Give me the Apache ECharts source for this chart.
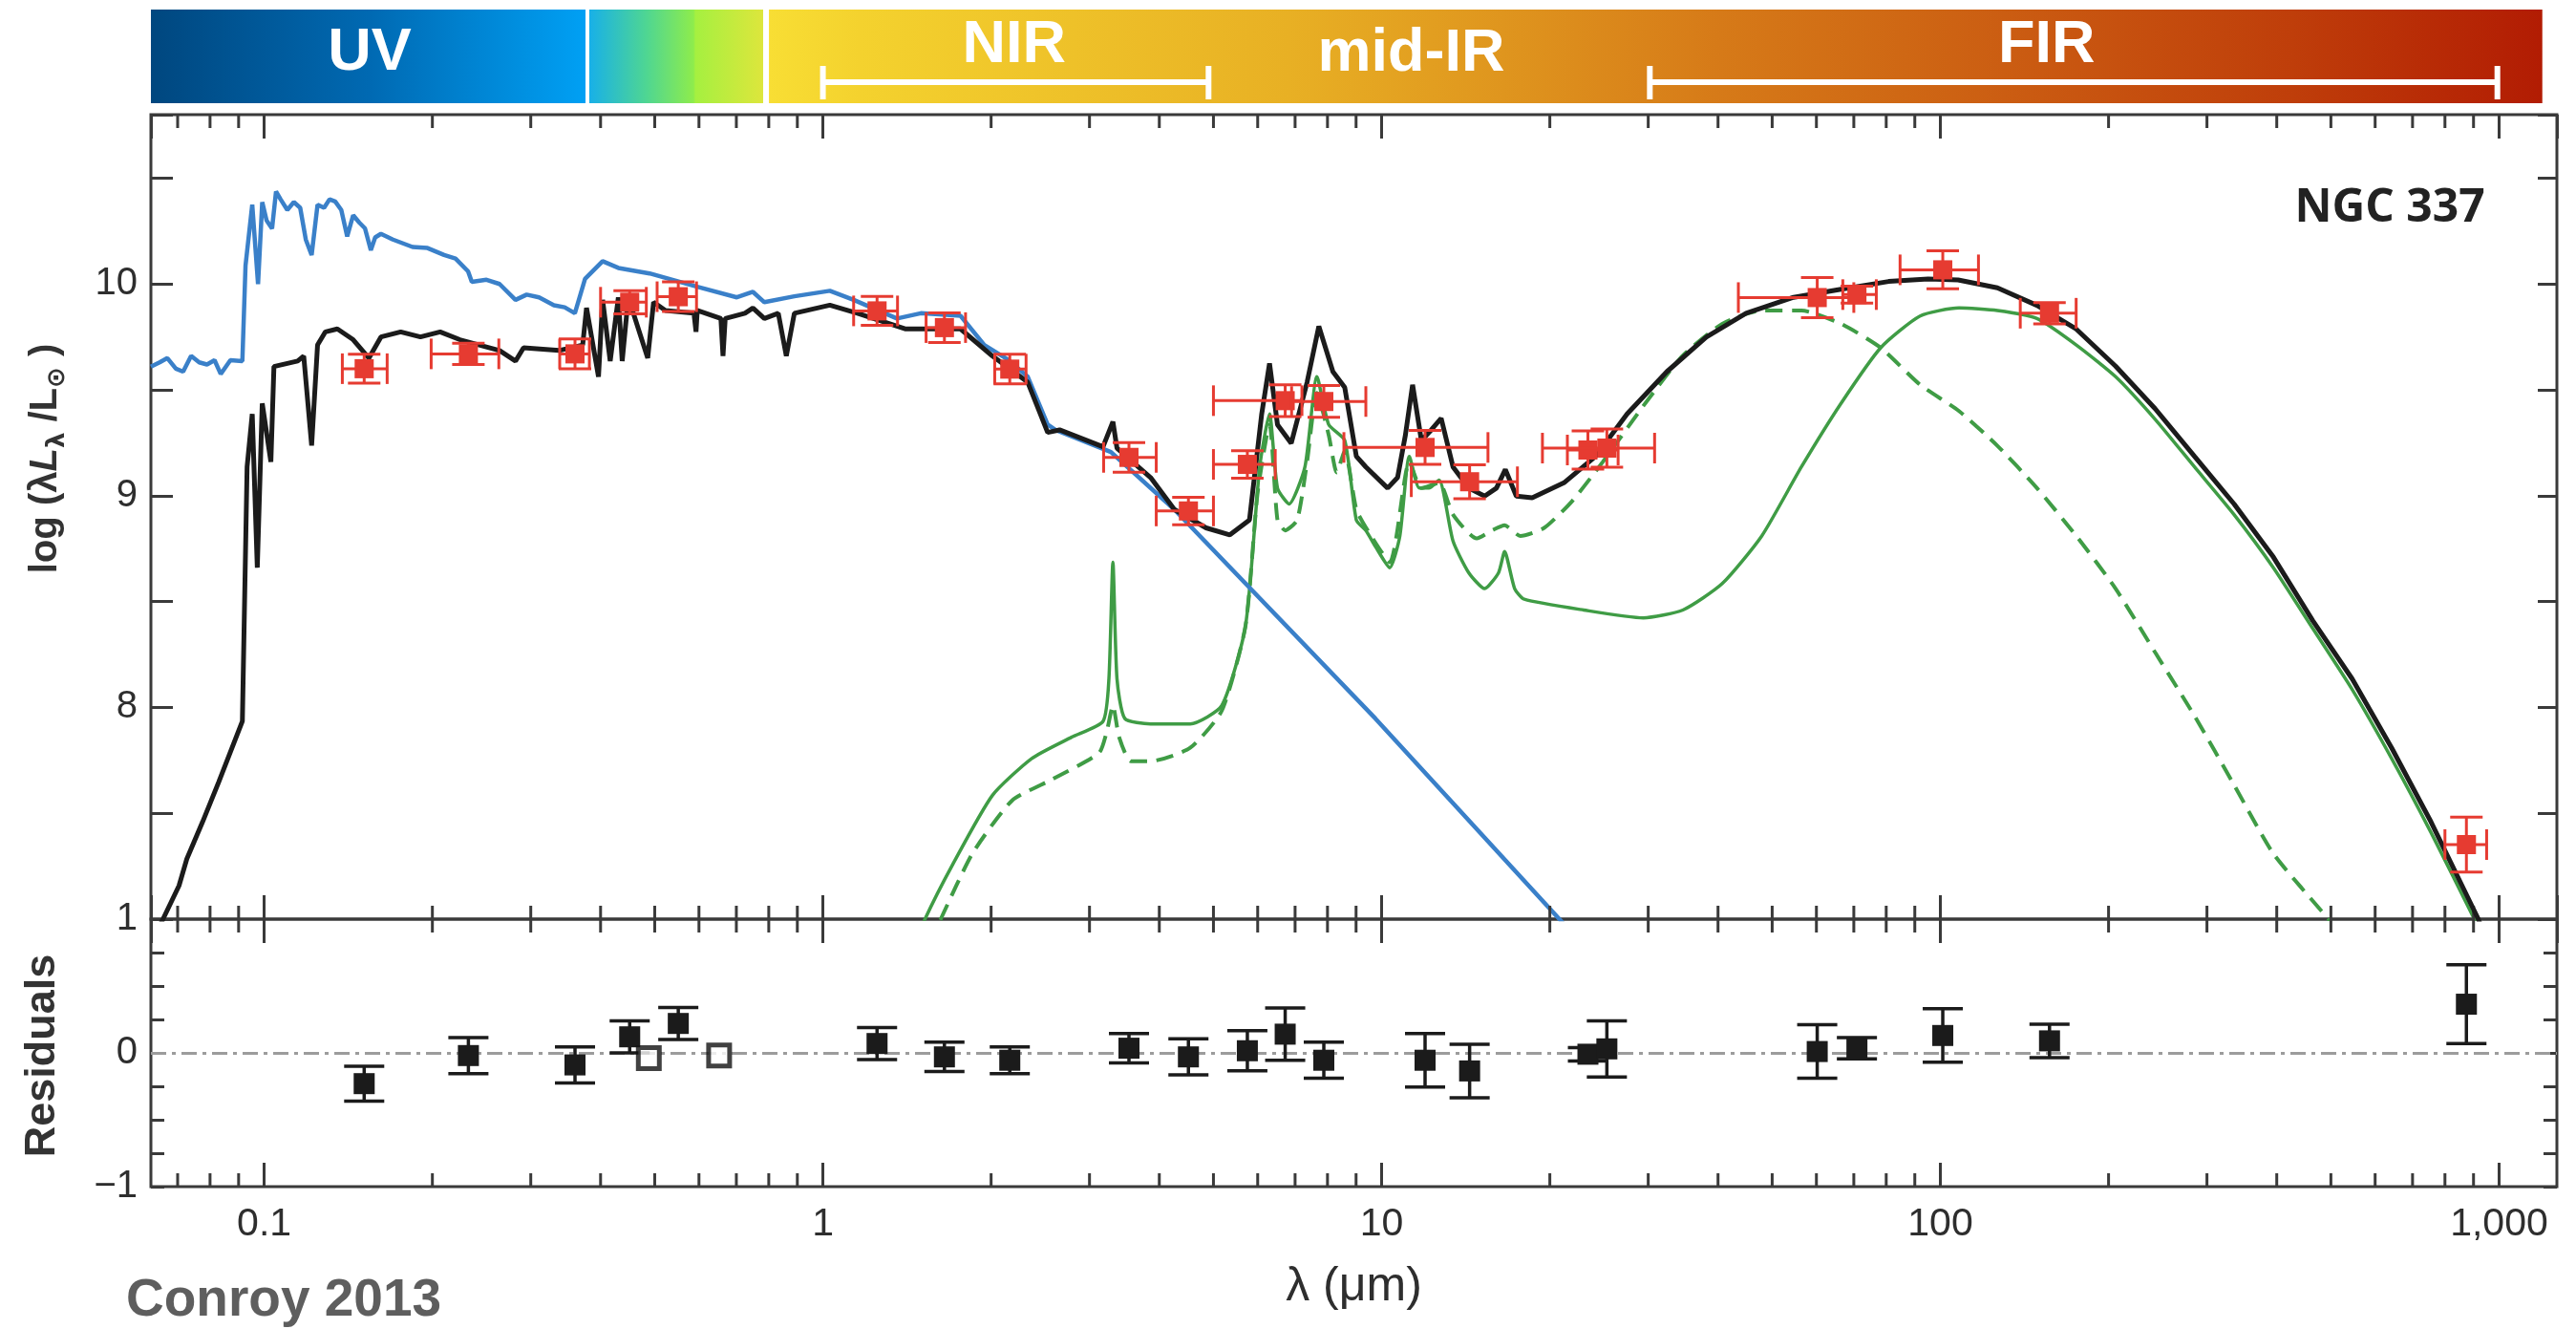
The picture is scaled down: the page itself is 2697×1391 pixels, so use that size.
<!DOCTYPE html>
<html><head><meta charset="utf-8">
<script src="https://cdn.jsdelivr.net/npm/echarts@6.0.0/dist/echarts.min.js"></script>
<style>html,body{margin:0;padding:0;background:#fff}#c{width:2697px;height:1391px}</style>
</head><body><div id="c"></div>
<script>
// ---------------- DATA ----------------
// stellar (unattenuated) spectrum, blue
const stellarWave = [0.0627,0.0650,0.0671,0.0695,0.0716,0.0740,0.0765,0.0790,0.0815,0.0836,0.0870,0.0914,0.0926,0.0952,0.0975,0.0992,0.1010,0.1033,0.1050,0.1070,0.1100,0.1130,0.1160,0.1187,0.1216,0.1246,0.1280,0.1309,0.1340,0.1374,0.1408,0.1443,0.1480,0.1515,0.1552,0.1580,0.1618,0.1700,0.1843,0.1960,0.2099,0.2200,0.2317,0.2353,0.2500,0.2638,0.2817,0.2950,0.3105,0.3300,0.3450,0.3598,0.3752,0.4034,0.4304,0.4895,0.5958,0.7015,0.7494,0.7856,0.889,1.029,1.135,1.357,1.497,1.763,1.945,2.14,2.326,2.525,2.606,3.277,4.256,9.75,22.0];
const stellarLum  = [9.61,9.63,9.65,9.60,9.586,9.66,9.63,9.62,9.64,9.575,9.64,9.636,10.087,10.375,10.0,10.387,10.30,10.262,10.437,10.40,10.35,10.387,10.36,10.21,10.137,10.375,10.36,10.40,10.39,10.35,10.225,10.325,10.29,10.263,10.16,10.22,10.237,10.21,10.175,10.17,10.137,10.12,10.06,10.01,10.02,10.0,9.925,9.95,9.937,9.90,9.89,9.862,10.024,10.108,10.076,10.05,9.987,9.937,9.963,9.914,9.942,9.968,9.925,9.837,9.862,9.85,9.712,9.644,9.562,9.336,9.311,9.206,8.935,7.947,6.93];
// total model, black
const totalWave = [0.0640,0.0659,0.0704,0.0727,0.0776,0.0829,0.0914,0.0932,0.0952,0.0972,0.0992,0.1028,0.1041,0.1148,0.1177,0.1216,0.1246,0.1287,0.1352,0.1443,0.1540,0.1618,0.1755,0.1904,0.2065,0.2240,0.2638,0.2817,0.2912,0.3370,0.3716,0.3775,0.3966,0.4034,0.4162,0.4304,0.4373,0.4484,0.4858,0.4977,0.5227,0.5877,0.5928,0.5958,0.6568,0.6625,0.6686,0.7252,0.7494,0.7856,0.832,0.860,0.889,1.029,1.153,1.403,1.547,1.763,2.01,2.326,2.525,2.652,3.172,3.304,3.36,3.859,4.256,4.85,5.35,5.80,6.10,6.30,6.51,6.89,7.355,7.72,8.18,8.59,9.01,9.37,10.25,10.68,11.03,11.36,11.78,12.27,12.78,13.42,14.32,15.29,16.05,16.65,17.42,18.6,21.2,24.15,27.5,32.4,38.1,44.9,54.6,66.4,80.8,95.1,107.6,126.5,148.9,175.1,205.9,242.3,285,335.5,394.5,464,545.8,642.2,755.4,918,960];
const totalLum  = [6.93,7.0,7.158,7.284,7.46,7.647,7.935,9.136,9.386,8.66,9.436,9.16,9.61,9.636,9.66,9.237,9.712,9.774,9.788,9.737,9.65,9.75,9.774,9.75,9.774,9.737,9.686,9.636,9.699,9.686,9.712,9.887,9.562,9.925,9.636,9.937,9.636,9.937,9.65,9.914,9.875,9.862,9.774,9.875,9.837,9.66,9.837,9.862,9.887,9.837,9.862,9.66,9.862,9.90,9.862,9.788,9.788,9.788,9.66,9.536,9.299,9.311,9.231,9.35,9.224,9.086,8.935,8.848,8.815,8.885,9.386,9.625,9.336,9.248,9.536,9.80,9.586,9.511,9.186,9.136,9.036,9.086,9.287,9.524,9.261,9.311,9.366,9.136,9.036,8.998,9.036,9.124,8.998,8.99,9.061,9.186,9.386,9.586,9.749,9.862,9.937,9.975,10.012,10.024,10.019,9.982,9.899,9.787,9.612,9.411,9.186,8.961,8.71,8.41,8.135,7.809,7.459,7.0,6.86];
// dust emission, green solid
const dustWave = [1.45,1.523,1.707,2.01,2.365,2.785,3.172,3.25,3.304,3.36,3.471,3.859,4.543,5.176,5.706,6.05,6.30,6.51,6.83,7.29,7.66,8.04,8.59,9.01,9.37,9.75,10.34,10.78,11.21,11.68,12.15,12.67,13.42,14.32,15.29,16.19,16.6,17.3,18.0,23.0,29.4,34.6,40.7,47.9,56.4,66.4,78.2,92,108,126.5,148.9,175.1,205.9,242.3,285,335.5,394.5,464,545.8,642.2,755.4,903,940];
const dustLum  = [6.85,7.0,7.258,7.584,7.759,7.859,7.934,8.135,8.686,8.135,7.947,7.922,7.922,8.009,8.385,9.136,9.386,9.036,8.961,9.136,9.562,9.336,9.261,8.885,8.836,8.76,8.66,8.81,9.186,9.036,9.036,9.074,8.786,8.636,8.561,8.636,8.736,8.561,8.511,8.46,8.423,8.46,8.585,8.81,9.136,9.436,9.699,9.849,9.887,9.875,9.837,9.712,9.562,9.361,9.136,8.911,8.66,8.373,8.085,7.759,7.409,7.0,6.9];
// dust emission second component, green dashed
const dust2Wave = [1.55,1.625,1.852,2.18,2.567,3.12,3.22,3.304,3.39,3.557,3.859,4.543,5.176,5.706,5.996,6.30,6.51,6.72,7.06,7.355,7.66,8.04,8.31,8.59,9.01,9.37,10.34,11.21,11.78,12.67,13.42,14.8,15.76,16.6,17.71,19.54,21.9,24.9,29.4,34.6,40.7,47.9,56.4,66.4,78.2,92,108,126.5,148.9,175.1,205.9,242.3,285,335.5,394.5,495,520];
const dust2Lum  = [6.88,7.0,7.31,7.56,7.659,7.785,7.884,8.009,7.859,7.746,7.746,7.809,7.985,8.385,9.011,9.336,8.885,8.836,8.885,9.161,9.486,9.287,9.11,9.211,8.935,8.85,8.686,9.161,9.036,9.061,8.911,8.798,8.836,8.86,8.81,8.848,8.973,9.161,9.424,9.662,9.812,9.875,9.875,9.812,9.699,9.524,9.40,9.236,9.036,8.81,8.561,8.26,7.96,7.634,7.309,7.0,6.93];
// photometry (red)
const obsWave   = [0.151,0.232,0.360,0.451,0.551,1.25,1.65,2.16,3.53,4.51,5.75,6.72,7.88,11.96,14.37,23.4,25.3,60.2,70.9,101,156.8,874];
const obsLum    = [9.60,9.67,9.67,9.914,9.94,9.873,9.794,9.598,9.181,8.928,9.148,9.449,9.445,9.228,9.066,9.216,9.225,9.936,9.95,10.067,9.862,7.352];
const obsWaveLo = [0.138,0.199,0.338,0.400,0.505,1.135,1.53,2.03,3.18,3.95,5.0,5.0,6.9,8.56,11.3,21.5,19.4,43.5,66.9,84.7,139,800];
const obsWaveHi = [0.166,0.263,0.382,0.483,0.594,1.36,1.80,2.31,3.95,5.0,6.45,7.2,9.37,15.5,17.5,26.5,30.8,70,76.8,117,175,950];
const obsErr    = [0.068,0.05,0.07,0.055,0.07,0.068,0.07,0.07,0.07,0.065,0.065,0.075,0.075,0.08,0.08,0.09,0.09,0.095,0.04,0.09,0.05,0.13];
// residuals (black) at the photometry wavelengths
const residVal  = [-0.23,-0.02,-0.09,0.12,0.22,0.07,-0.03,-0.055,0.035,-0.03,0.016,0.14,-0.055,-0.055,-0.135,-0.01,0.03,0.01,0.035,0.13,0.09,0.364];
const residErr  = [0.13,0.135,0.135,0.12,0.12,0.12,0.11,0.1,0.11,0.135,0.15,0.195,0.135,0.2,0.2,0.05,0.21,0.2,0.08,0.2,0.125,0.295];
const openWave  = [0.488,0.652];
const openVal   = [-0.04,-0.02];
// minor ticks of the wavelength axis
const minorTickWave = [0.07,0.08,0.09,0.2,0.3,0.4,0.5,0.6,0.7,0.8,0.9,2,3,4,5,6,7,8,9,20,30,40,50,60,70,80,90,200,300,400,500,600,700,800,900];
// spectral band strip
const bandFrom  = [0.0627,0.3818,0.8006];
const bandTo    = [0.3759,0.7817,1195];
const bandLabels = ['UV','NIR','mid-IR','FIR'];
const bandLabelWave = [0.1545,2.2,11.3,155];
const bracketFrom = [1.0,30.2];
const bracketTo   = [4.9,993];

// ---------------- STYLE ----------------
const X_MIN = 0.0627, X_MAX = 1269;
const FONT = '"Liberation Sans", Arial, Helvetica, sans-serif';
const RED = '#e63b31', BLK = '#1b1b1b', BLUE = '#3a80c9', GREEN = '#3f9c45', AX = '#3a3a3a';
const bandGradients = [
  [[0,'#00477f'],[0.5,'#0069b2'],[1,'#00a0f4']],
  [[0,'#18b0e8'],[0.33,'#4fd692'],[0.6,'#8eec4c'],[0.61,'#a5f040'],[1,'#dde63c']],
  [[0,'#f8de34'],[0.051,'#f4d22e'],[0.293,'#e8b024'],[0.536,'#d67a18'],[0.697,'#cb5d12'],[0.859,'#bf3e0a'],[1,'#b21c03']]
];
const bandLabelOffset = [45.5,38,46.5,38];

const zip = (a,b) => a.map((v,i)=>[v,b[i]]);

function fmtX(v){
  const l = Math.log10(v);
  if (Math.abs(l-Math.round(l))>1e-6) return '';
  const p = Math.pow(10, Math.round(l));
  return String(p).replace(/\B(?=(\d{3})+(?!\d))/g, ',');
}

const chart = echarts.init(document.getElementById('c'), null, {renderer:'canvas'});

const tickStyle = {color: AX, width: 3};
function xAx(grid, pos, labels){
  const a = {type:'log', logBase:10, gridIndex:grid, position:pos, min:X_MIN, max:X_MAX,
    splitLine:{show:false}, axisLine:{show:false, onZero:false},
    axisTick:{show:true, inside:true, length:25, lineStyle:tickStyle},
    axisLabel:{show:false}};
  if (labels){
    a.axisLabel = {show:true, formatter:fmtX, fontSize:41, fontFamily:FONT, color:'#2e2e2e', margin:19, showMinLabel:false, showMaxLabel:false};
    a.name = 'λ (μm)'; a.nameLocation = 'middle'; a.nameGap = 80;
    a.nameTextStyle = {fontSize:50, fontFamily:FONT, color:'#2e2e2e'};
  }
  return a;
}
function yAx(grid, pos, min, max, interval, len, fmt){
  return {type:'value', gridIndex:grid, position:pos, min:min, max:max, interval:interval,
    splitLine:{show:false}, axisLine:{show:false, onZero:false},
    axisTick:{show:true, inside:true, length:len, lineStyle:tickStyle},
    axisLabel: fmt ? {show:true, formatter:fmt, fontSize:40, fontFamily:FONT, color:'#2e2e2e', margin:14} : {show:false}};
}
const near = (v,t) => Math.abs(v-t)<1e-9;

function renderObs(params, api){
  const x = api.value(0), y = api.value(1), lo = api.value(2), hi = api.value(3), e = api.value(4);
  const c = api.coord([x,y]), pl = api.coord([lo,y]), ph = api.coord([hi,y]);
  const pt = api.coord([x,y+e]), pb = api.coord([x,y-e]);
  const st = () => ({stroke:RED, lineWidth:3, fill:null});
  const ch = 16, cw = 17, m = 10;
  return {type:'group', children:[
    {type:'line', shape:{x1:pl[0],y1:c[1],x2:ph[0],y2:c[1]}, style:st()},
    {type:'line', shape:{x1:pl[0],y1:c[1]-ch,x2:pl[0],y2:c[1]+ch}, style:st()},
    {type:'line', shape:{x1:ph[0],y1:c[1]-ch,x2:ph[0],y2:c[1]+ch}, style:st()},
    {type:'line', shape:{x1:c[0],y1:pt[1],x2:c[0],y2:pb[1]}, style:st()},
    {type:'line', shape:{x1:c[0]-cw,y1:pt[1],x2:c[0]+cw,y2:pt[1]}, style:st()},
    {type:'line', shape:{x1:c[0]-cw,y1:pb[1],x2:c[0]+cw,y2:pb[1]}, style:st()},
    {type:'rect', shape:{x:c[0]-m,y:c[1]-m,width:2*m,height:2*m}, style:{fill:RED}}
  ]};
}
function renderResid(params, api){
  const x = api.value(0), y = api.value(1), e = api.value(2);
  const c = api.coord([x,y]), pt = api.coord([x,y+e]), pb = api.coord([x,y-e]);
  const st = () => ({stroke:BLK, lineWidth:3.5, fill:null});
  const cw = 21, m = 11;
  return {type:'group', children:[
    {type:'line', shape:{x1:c[0],y1:pt[1],x2:c[0],y2:pb[1]}, style:st()},
    {type:'line', shape:{x1:c[0]-cw,y1:pt[1],x2:c[0]+cw,y2:pt[1]}, style:st()},
    {type:'line', shape:{x1:c[0]-cw,y1:pb[1],x2:c[0]+cw,y2:pb[1]}, style:st()},
    {type:'rect', shape:{x:c[0]-m,y:c[1]-m,width:2*m,height:2*m}, style:{fill:BLK}}
  ]};
}
function renderMinor(params, api){
  const cs = params.coordSys;
  const x = api.coord([api.value(0), api.value(1)])[0];
  const st = () => ({stroke:AX, lineWidth:3});
  return {type:'group', children:[
    {type:'line', shape:{x1:x,y1:cs.y,x2:x,y2:cs.y+14}, style:st()},
    {type:'line', shape:{x1:x,y1:cs.y+cs.height,x2:x,y2:cs.y+cs.height-14}, style:st()}
  ]};
}
function renderBand(params, api){
  const cs = params.coordSys;
  const i = params.dataIndex;
  const x1 = api.coord([api.value(0),0.5])[0], x2 = api.coord([api.value(1),0.5])[0];
  return {type:'rect', shape:{x:x1, y:cs.y, width:x2-x1, height:cs.height},
    style:{fill:{type:'linear', x:0, y:0, x2:1, y2:0, global:false,
      colorStops: bandGradients[i].map(s=>({offset:s[0], color:s[1]}))}}};
}
function renderBracket(params, api){
  const cs = params.coordSys;
  const x1 = api.coord([api.value(0),0.5])[0], x2 = api.coord([api.value(1),0.5])[0];
  const y = cs.y + 76, t = cs.y + 59, b = cs.y + 94;
  const st = () => ({stroke:'#ffffff', lineWidth:6});
  return {type:'group', children:[
    {type:'line', shape:{x1:x1,y1:y,x2:x2,y2:y}, style:st()},
    {type:'line', shape:{x1:x1,y1:t,x2:x1,y2:b}, style:st()},
    {type:'line', shape:{x1:x2,y1:t,x2:x2,y2:b}, style:st()}
  ]};
}
function renderBandLabel(params, api){
  const cs = params.coordSys;
  const i = params.dataIndex;
  const x = api.coord([api.value(0),0.5])[0];
  return {type:'text', style:{x:x, y:cs.y + bandLabelOffset[i], text:bandLabels[i], fill:'#ffffff',
    font:'bold 63px ' + FONT, align:'center', verticalAlign:'middle', textAlign:'center', textVerticalAlign:'middle'}};
}

const option = {
  animation:false,
  backgroundColor:'#ffffff',
  grid:[
    {left:158, top:120, width:2519, height:842, show:true, borderColor:AX, borderWidth:3, backgroundColor:'transparent', outerBoundsMode:'none', containLabel:false},
    {left:158, top:962, width:2519, height:280, show:true, borderColor:AX, borderWidth:3, backgroundColor:'transparent', outerBoundsMode:'none', containLabel:false},
    {left:158, top:10, width:2519, height:98, show:false, outerBoundsMode:'none', containLabel:false}
  ],
  xAxis:[
    xAx(0,'bottom',false), xAx(0,'top',false), xAx(1,'bottom',true), xAx(1,'top',false),
    {type:'log', logBase:10, gridIndex:2, min:X_MIN, max:X_MAX, show:false}
  ],
  yAxis:[
    yAx(0,'left',7,10.8,0.5,23, v => (near(v,8)||near(v,9)||near(v,10)) ? String(Math.round(v)) : ''),
    yAx(0,'right',7,10.8,0.5,20,null),
    yAx(1,'left',-1,1,0.25,14, v => near(v,1)?'1' : near(v,0)?'0' : near(v,-1)?'\u22121' : ''),
    yAx(1,'right',-1,1,0.25,14,null),
    {type:'value', gridIndex:2, min:0, max:1, show:false}
  ],
  graphic:[
    {type:'text', x:2502, y:218, style:{text:'NGC 337', font:'bold 48px "Open Sans", ' + FONT, fill:'#222222', align:'center', verticalAlign:'middle', textAlign:'center', textVerticalAlign:'middle'}},
    {type:'text', x:45, y:1105, rotation:Math.PI/2, style:{text:'Residuals', font:'bold 45px ' + FONT, fill:'#333333', align:'center', verticalAlign:'middle', textAlign:'center', textVerticalAlign:'middle'}},
    {type:'text', x:48, y:480, rotation:Math.PI/2, style:{
      text:'{b|log (λ}{i|L}{s|λ}{b| /L}{s|⊙}{b| )}', align:'center', verticalAlign:'middle', textAlign:'center', textVerticalAlign:'middle',
      rich:{
        b:{font:'bold 40px ' + FONT, fill:'#333333', lineHeight:50},
        i:{font:'italic bold 40px ' + FONT, fill:'#333333', lineHeight:50},
        s:{font:'bold 26px "DejaVu Sans", ' + FONT, fill:'#333333', lineHeight:30, verticalAlign:'bottom'}
      }}},
    {type:'text', x:132, y:1362, style:{text:'Conroy 2013', font:'bold 55px ' + FONT, fill:'#5e5e5e', align:'left', verticalAlign:'middle', textAlign:'left', textVerticalAlign:'middle'}}
  ],
  series:[
    // band strip
    {type:'custom', name:'bands', xAxisIndex:4, yAxisIndex:4, renderItem:renderBand,
      data: bandFrom.map((f,i)=>[f, bandTo[i]]), encode:{x:[0,1]}, silent:true, z:1},
    {type:'custom', name:'brackets', xAxisIndex:4, yAxisIndex:4, renderItem:renderBracket,
      data: bracketFrom.map((f,i)=>[f, bracketTo[i]]), encode:{x:[0,1]}, silent:true, z:2},
    {type:'custom', name:'bandLabels', xAxisIndex:4, yAxisIndex:4, renderItem:renderBandLabel,
      data: bandLabelWave.map(w=>[w]), encode:{x:0}, silent:true, z:3},
    // minor ticks
    {type:'custom', name:'minorMain', xAxisIndex:0, yAxisIndex:0, renderItem:renderMinor,
      data: minorTickWave.map(w=>[w, 8]), encode:{x:0, y:1}, silent:true, z:5},
    {type:'custom', name:'minorResid', xAxisIndex:2, yAxisIndex:2, renderItem:renderMinor,
      data: minorTickWave.map(w=>[w, 0]), encode:{x:0, y:1}, silent:true, z:5},
    // model curves
    {type:'line', name:'dust cold', xAxisIndex:0, yAxisIndex:0, data:zip(dust2Wave, dust2Lum), showSymbol:false, symbol:'none', smooth:0.2, clip:true,
      lineStyle:{color:GREEN, width:4, type:[18,10]}, z:2},
    {type:'line', name:'dust', xAxisIndex:0, yAxisIndex:0, data:zip(dustWave, dustLum), showSymbol:false, symbol:'none', smooth:0.2, clip:true,
      lineStyle:{color:GREEN, width:3.5}, z:3},
    {type:'line', name:'stellar', xAxisIndex:0, yAxisIndex:0, data:zip(stellarWave, stellarLum), showSymbol:false, symbol:'none', clip:true,
      lineStyle:{color:BLUE, width:4.5}, z:4},
    {type:'line', name:'total', xAxisIndex:0, yAxisIndex:0, data:zip(totalWave, totalLum), showSymbol:false, symbol:'none', clip:true,
      lineStyle:{color:BLK, width:5}, z:5},
    // photometry
    {type:'custom', name:'obs', xAxisIndex:0, yAxisIndex:0, renderItem:renderObs,
      data: obsWave.map((w,i)=>[w, obsLum[i], obsWaveLo[i], obsWaveHi[i], obsErr[i]]), encode:{x:0, y:1}, z:8},
    // residuals
    {type:'line', name:'zero', xAxisIndex:2, yAxisIndex:2, data:[], z:1,
      markLine:{silent:true, symbol:'none', label:{show:false}, animation:false,
        lineStyle:{color:'#9c9c9c', width:3, type:[16,6,4,6]}, data:[{yAxis:0}]}},
    {type:'custom', name:'resid', xAxisIndex:2, yAxisIndex:2, renderItem:renderResid,
      data: obsWave.map((w,i)=>[w, residVal[i], residErr[i]]), encode:{x:0, y:1}, z:8},
    {type:'scatter', name:'residOpen', xAxisIndex:2, yAxisIndex:2, data:zip(openWave, openVal), symbol:'rect', symbolSize:22,
      itemStyle:{color:'#ffffff', borderColor:'#111111', borderWidth:5}, z:9}
  ]
};
chart.setOption(option);
</script>
</body></html>
